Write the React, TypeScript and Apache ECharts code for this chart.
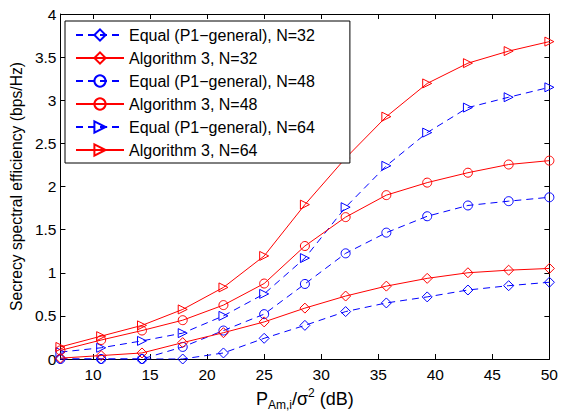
import React, { useEffect, useRef } from "react";
import * as echarts from "echarts";

const snrDb = [7.14, 10.71, 14.29, 17.86, 21.43, 25, 28.57, 32.14, 35.71, 39.29, 42.86, 46.43, 50];
const xTicks = [10, 15, 20, 25, 30, 35, 40, 45, 50];

const equalN32 = [0, 0, 0, 0, 0.07, 0.24, 0.39, 0.55, 0.65, 0.72, 0.8, 0.85, 0.89];
const algN32 = [0.01, 0.04, 0.07, 0.19, 0.305, 0.43, 0.59, 0.73, 0.845, 0.935, 1.0, 1.03, 1.05];
const equalN48 = [0, 0, 0, 0.14, 0.33, 0.52, 0.87, 1.225, 1.465, 1.655, 1.78, 1.83, 1.875];
const algN48 = [0.1, 0.22, 0.33, 0.45, 0.625, 0.875, 1.31, 1.645, 1.9, 2.045, 2.16, 2.255, 2.3];
const equalN64 = [0.08, 0.13, 0.21, 0.3, 0.5, 0.755, 1.17, 1.76, 2.24, 2.625, 2.915, 3.035, 3.15];
const algN64 = [0.14, 0.265, 0.39, 0.575, 0.83, 1.195, 1.79, 2.33, 2.81, 3.195, 3.43, 3.57, 3.68];

const seriesNames = [
  "Equal (P1\u2212general), N=32",
  "Algorithm 3, N=32",
  "Equal (P1\u2212general), N=48",
  "Algorithm 3, N=48",
  "Equal (P1\u2212general), N=64",
  "Algorithm 3, N=64",
];

const FONT = "Liberation Sans, Arial, Helvetica, sans-serif";
const TRI_RIGHT = "path://M0,0 L10,5 L0,10 Z";

export default function App() {
  const ref = useRef<HTMLDivElement>(null);
  useEffect(() => {
    if (!ref.current) return;
    document.body.style.margin = "0";
    const chart = echarts.init(ref.current, null, { renderer: "svg" });
    const mk = (name: string, vals: number[], dashed: boolean, symbol: string, size: number) => {
      const color = dashed ? "#0000ff" : "#ff0000";
      return {
        name,
        type: "line",
        data: snrDb.map((x, i) => [x, vals[i]]),
        symbol,
        symbolSize: size,
        showAllSymbol: true,
        lineStyle: { color, width: 1, type: dashed ? [7, 5] : "solid" },
        itemStyle: { color: "rgba(0,0,0,0)", borderColor: color, borderWidth: 1 },
        emphasis: { disabled: true },
        z: dashed ? 2 : 3,
      };
    };
    const axisCommon = {
      axisLine: { show: true, onZero: false, lineStyle: { color: "#000", width: 1 } },
      axisTick: { show: true, inside: true, length: 5, lineStyle: { color: "#000" } },
      splitLine: { show: false },
    };
    chart.setOption({
      animation: false,
      backgroundColor: "#fff",
      grid: { left: 59, right: 11, top: 14, bottom: 57 },
      legend: {
        data: seriesNames,
        orient: "vertical",
        left: 65,
        top: 21,
        backgroundColor: "#fff",
        borderColor: "#000",
        borderWidth: 1,
        padding: [6, 35, 5, 10],
        itemWidth: 48,
        itemHeight: 14,
        itemGap: 7,
        textStyle: { fontFamily: FONT, fontSize: 16, color: "#000" },
        selectedMode: false,
      },
      xAxis: [
        {
          type: "value",
          min: 50 / 7,
          max: 50,
          ...axisCommon,
          axisTick: { ...axisCommon.axisTick, customValues: xTicks },
          axisLabel: { customValues: xTicks, fontFamily: FONT, fontSize: 15.5, color: "#000", margin: 7 },
          name: "{n|P}{sub|Am,i}{n|/\u03c3}{sup|2}{n| (dB)}",
          nameLocation: "middle",
          nameGap: 23,
          nameTextStyle: {
            fontFamily: FONT,
            fontSize: 18,
            color: "#000",
            rich: {
              n: { fontFamily: FONT, fontSize: 18, color: "#000", lineHeight: 24 },
              sub: { fontFamily: FONT, fontSize: 12, color: "#000", lineHeight: 15, verticalAlign: "bottom" },
              sup: { fontFamily: FONT, fontSize: 12, color: "#000", lineHeight: 14, verticalAlign: "top" },
            },
          },
        },
        {
          type: "value",
          position: "top",
          min: 50 / 7,
          max: 50,
          ...axisCommon,
          axisTick: { ...axisCommon.axisTick, customValues: xTicks },
          axisLabel: { show: false, customValues: xTicks },
        },
      ],
      yAxis: [
        {
          type: "value",
          min: 0,
          max: 4,
          interval: 0.5,
          ...axisCommon,
          axisLabel: { fontFamily: FONT, fontSize: 15.5, color: "#000", margin: 4 },
          name: "Secrecy spectral efficiency (bps/Hz)",
          nameLocation: "middle",
          nameGap: 34,
          nameTextStyle: { fontFamily: FONT, fontSize: 15.7, color: "#000" },
        },
        {
          type: "value",
          position: "right",
          min: 0,
          max: 4,
          interval: 0.5,
          ...axisCommon,
          axisLabel: { show: false },
        },
      ],
      series: [
        mk(seriesNames[0], equalN32, true, "diamond", 10),
        mk(seriesNames[1], algN32, false, "diamond", 10),
        mk(seriesNames[2], equalN48, true, "circle", 9),
        mk(seriesNames[3], algN48, false, "circle", 9),
        mk(seriesNames[4], equalN64, true, TRI_RIGHT, 9),
        mk(seriesNames[5], algN64, false, TRI_RIGHT, 9),
      ],
    });
    return () => chart.dispose();
  }, []);
  return (
    <div
      ref={ref}
      style={{ position: "absolute", left: 0, top: 0, width: 561, height: 416 }}
    />
  );
}
